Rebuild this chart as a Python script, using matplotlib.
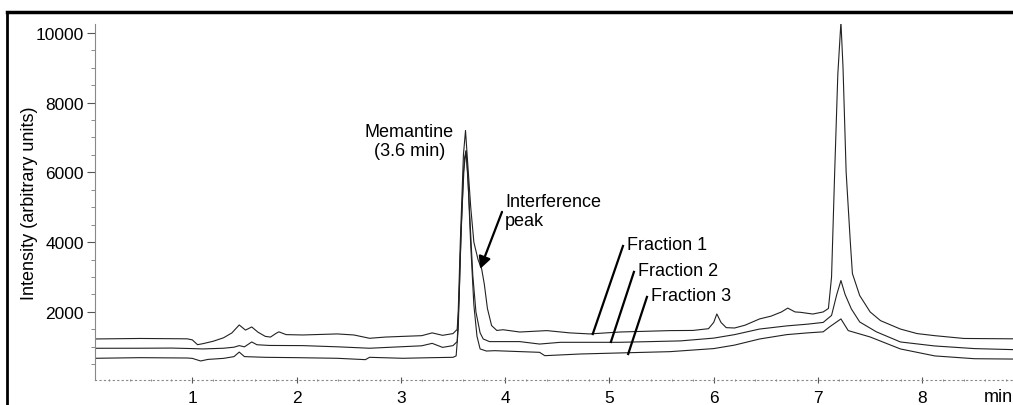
import matplotlib.pyplot as plt
from matplotlib.lines import Line2D
from matplotlib.ticker import MultipleLocator

plt.rcParams['font.family'] = ['Liberation Sans', 'DejaVu Sans']

# Fraction 1 (top trace)
t1 = [0.07, 0.5, 0.95, 1.0, 1.05, 1.1, 1.2, 1.3, 1.38, 1.45, 1.51, 1.57, 1.63, 1.7,
      1.75, 1.8, 1.83, 1.9, 2.06, 2.39, 2.55, 2.7, 2.85, 3.02, 3.2, 3.3, 3.4, 3.5,
      3.54, 3.55, 3.57, 3.6, 3.62, 3.64, 3.67, 3.7, 3.74, 3.775, 3.8, 3.83, 3.87,
      3.92, 3.98, 4.14, 4.4, 4.62, 4.81, 5.1, 5.58, 5.8, 5.95, 6.0, 6.03, 6.07,
      6.12, 6.2, 6.3, 6.44, 6.55, 6.65, 6.71, 6.78, 6.83, 6.95, 7.05, 7.1, 7.13,
      7.16, 7.19, 7.22, 7.24, 7.27, 7.31, 7.33, 7.4, 7.5, 7.6, 7.79, 7.95, 8.12,
      8.4, 8.87]
f1 = [1226, 1240, 1230, 1200, 1062, 1090, 1160, 1260, 1400, 1627, 1480, 1570, 1420, 1300,
      1280, 1380, 1430, 1350, 1340, 1370, 1340, 1245, 1280, 1300, 1320, 1400, 1330, 1380,
      1500, 2000, 4000, 6500, 7200, 6300, 5000, 4000, 3500, 3230, 2800, 2100, 1610,
      1470, 1490, 1425, 1465, 1400, 1370, 1425, 1465, 1470, 1520, 1700, 1942, 1700,
      1550, 1540, 1620, 1800, 1880, 2000, 2110, 2000, 1990, 1940, 2000, 2100, 3000,
      6000, 8800, 10310, 9000, 6000, 4000, 3100, 2470, 2000, 1750, 1510, 1380, 1320,
      1240, 1230]

# Fraction 2 (middle trace)
t2 = [0.07, 0.5, 0.8, 1.0, 1.1, 1.3, 1.4, 1.45, 1.5, 1.57, 1.62, 1.74, 2.06, 2.4,
      2.7, 3.02, 3.2, 3.3, 3.4, 3.5, 3.54, 3.56, 3.58, 3.61, 3.625, 3.64, 3.67, 3.69,
      3.72, 3.76, 3.79, 3.85, 4.0, 4.14, 4.33, 4.53, 5.1, 5.68, 6.0, 6.2, 6.44, 6.7,
      6.9, 7.05, 7.13, 7.18, 7.22, 7.26, 7.32, 7.4, 7.56, 7.79, 8.12, 8.5, 8.87]
f2 = [959, 960, 965, 950, 940, 960, 990, 1035, 1000, 1140, 1060, 1040, 1035, 1000,
      960, 1005, 1030, 1100, 985, 1035, 1150, 2500, 4500, 6400, 6625, 6000, 4200, 3040,
      2000, 1400, 1225, 1150, 1150, 1150, 1080, 1130, 1130, 1170, 1250, 1350, 1510, 1600,
      1650, 1700, 1900, 2500, 2900, 2500, 2086, 1713, 1430, 1140, 1025, 950, 920]

# Fraction 3 (bottom trace)
t3 = [0.07, 0.5, 0.95, 1.0, 1.08, 1.15, 1.3, 1.4, 1.45, 1.5, 1.7, 2.0, 2.39, 2.66,
      2.7, 3.02, 3.3, 3.5, 3.53, 3.55, 3.57, 3.6, 3.625, 3.645, 3.67, 3.7, 3.73, 3.76,
      3.82, 3.9, 4.33, 4.38, 4.72, 5.1, 5.58, 6.0, 6.2, 6.44, 6.7, 6.9, 7.05, 7.11,
      7.22, 7.29, 7.5, 7.79, 8.12, 8.5, 8.87]
f3 = [672, 690, 680, 670, 595, 640, 670, 720, 850, 720, 700, 690, 672, 633,
      700, 672, 690, 700, 740, 1500, 3600, 6000, 6600, 5700, 3900, 2200, 1300, 940,
      880, 890, 843, 747, 795, 825, 862, 950, 1050, 1225, 1350, 1400, 1430, 1570,
      1800, 1465, 1283, 940, 740, 660, 650]

fig = plt.figure(figsize=(10.13, 4.06), dpi=100)
ax = fig.add_axes([95/1013, 25/406, 1 - 95/1013, 356/406])

for t, f in [(t1, f1), (t2, f2), (t3, f3)]:
    ax.plot(t, f, color='#222222', lw=0.8)

ax.set_xlim(0.067, 8.87)
ax.set_ylim(50, 10250)

ax.spines['top'].set_visible(False)
ax.spines['right'].set_visible(False)
ax.spines['left'].set_color('#888888')
ax.spines['left'].set_linewidth(0.8)
ax.spines['bottom'].set_color('#888888')
ax.spines['bottom'].set_linestyle((0, (1, 3)))
ax.spines['bottom'].set_linewidth(0.8)

ax.set_xticks(range(1, 9))
ax.xaxis.set_minor_locator(MultipleLocator(0.2))
ax.set_yticks([2000, 4000, 6000, 8000, 10000])
ax.yaxis.set_minor_locator(MultipleLocator(500))
ax.tick_params(axis='y', which='major', length=6, width=0.8, color='#555555',
               labelsize=12.5, pad=2)
ax.tick_params(axis='y', which='minor', length=3, width=0.6, color='#777777')
ax.tick_params(axis='x', which='major', length=4, width=0.8, color='#555555',
               labelsize=12.5, pad=5, direction='inout')
ax.tick_params(axis='x', which='minor', length=2, width=0.6, color='#777777',
               direction='inout')

ax.set_ylabel('Intensity (arbitrary units)', fontsize=13)
ax.yaxis.set_label_coords(-0.062, 0.5)

ax.annotate('min', xy=(8.73, 0), xycoords=('data', 'axes fraction'),
            xytext=(0, -6), textcoords='offset points',
            fontsize=13, ha='center', va='top')

ax.text(3.08, 6902, 'Memantine\n(3.6 min)', fontsize=13, ha='center', va='center',
        multialignment='center')
ax.text(4.0, 4895, 'Interference\npeak', fontsize=13, ha='left', va='center')
ax.annotate('', xy=(3.76, 3233), xytext=(3.97, 4867),
            arrowprops=dict(arrowstyle='-|>', color='black', lw=1.6,
                            mutation_scale=18, shrinkA=0, shrinkB=0))

fractions = ['Fraction 1', 'Fraction 2', 'Fraction 3']
label_xy = [(5.17, 3920), (5.27, 3185), (5.395, 2458)]
line_top = [(5.13, 3890), (5.235, 3147), (5.36, 2430)]
line_end = [(4.84, 1367), (5.014, 1140), (5.18, 795)]
for name, (lx, ly), (ax0, ay0), (ax1, ay1) in zip(fractions, label_xy, line_top, line_end):
    ax.text(lx, ly, name, fontsize=13, ha='left', va='center')
    ax.plot([ax0, ax1], [ay0, ay1], color='black', lw=1.6)

# outer frame of the scanned figure
fig.add_artist(Line2D([7/1013, 1], [1 - 13/406, 1 - 13/406], color='black', lw=2.5))
fig.add_artist(Line2D([7/1013, 7/1013], [0, 1 - 13/406], color='black', lw=2))

fig.savefig('out.png', dpi=100)
